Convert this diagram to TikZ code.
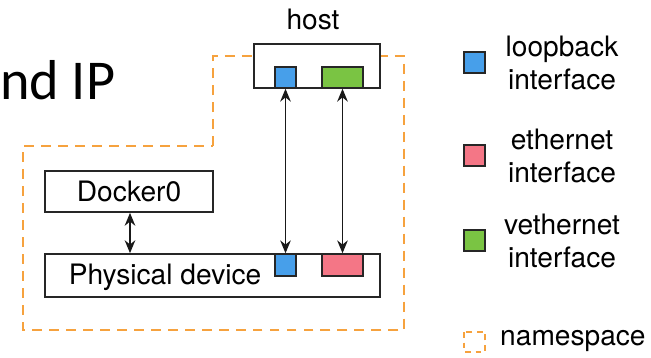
\documentclass[tikz,border=0pt]{standalone}
\usepackage{fontspec}
\setmainfont{TeX Gyre Heros}
\newfontfamily\slidefont{Carlito}
\usetikzlibrary{fit, arrows.meta}

\definecolor{loblue}{HTML}{479FEA}
\definecolor{ethpink}{HTML}{F47686}
\definecolor{vethgreen}{HTML}{7AC443}
\definecolor{nsorange}{HTML}{F6A23E}

\tikzset{
  box/.style={draw=black!85, line width=1.4pt, inner sep=0pt},
  iface/.style={box, line width=1.2pt},
  nsline/.style={draw=nsorange, line width=1.4pt, dash pattern=on 8.5pt off 6pt},
  link/.style={<->, line width=1.6pt, black!90},
  lbl/.style={font=\fontsize{24}{28}\selectfont, inner sep=0pt, align=center},
}

\begin{document}
\begin{tikzpicture}[>={Stealth[length=11pt, width=9pt]}, x=0.03cm, y=-0.03cm]
  \useasboundingbox[fill=white] (0,0) rectangle (651,357);

  % slide title, cut at the left edge
  \node[anchor=west, inner sep=0pt, font=\slidefont\fontsize{48}{50}\selectfont] (title) at (0,80) {nd IP};

  % namespace outline
  \draw[nsline] (213,146) -- (213,56) -- (404,56) -- (404,330) -- (23,330) -- (23,146) -- cycle;

  % host with its two interfaces
  \node[box, fill=white, fit={(254,44) (380,88)}] (host) {};
  \node[lbl, anchor=south] (hostlbl) at (313,30) {host};
  \node[iface, fill=loblue, fit={(275,67) (296,88)}] (hostlo) {};
  \node[iface, fill=vethgreen, fit={(322,67) (363,88)}] (hostveth) {};

  % docker bridge and physical device
  \node[box, fit={(45,171) (213,212)}] (docker) {};
  \node[lbl] (dockerlbl) at (docker.center) {Docker0};
  \node[box, fit={(45,254) (380,297)}] (phys) {};
  \node[lbl] (physlbl) at (165,277) {Physical device};
  \node[iface, fill=loblue, fit={(275,254) (296,276)}] (physlo) {};
  \node[iface, fill=ethpink, fit={(322,254) (363,276)}] (phyeth) {};

  % links
  \draw[link] (hostlo) -- (physlo);
  \draw[link] (hostveth) -- (phyeth);
  \draw[link] (docker.south -| 130,0) -- (phys.north -| 130,0);

  % legend
  \node[iface, fill=loblue, fit={(464,52) (485,73)}] (keylo) {};
  \node[lbl] (keylolbl) at (562,63) {loopback\\interface};
  \node[iface, fill=ethpink, fit={(464,145) (485,166)}] (keyeth) {};
  \node[lbl] (keyethlbl) at (562,156) {ethernet\\interface};
  \node[iface, fill=vethgreen, fit={(464,230) (485,251)}] (keyveth) {};
  \node[lbl] (keyvethlbl) at (562,241) {vethernet\\interface};
  \draw[nsline, line width=1.2pt, dash pattern=on 5pt off 4pt] (464,332) rectangle (485,352);
  \node[lbl, anchor=west] (keynslbl) at (500,341) {namespace};
\end{tikzpicture}
\end{document}
